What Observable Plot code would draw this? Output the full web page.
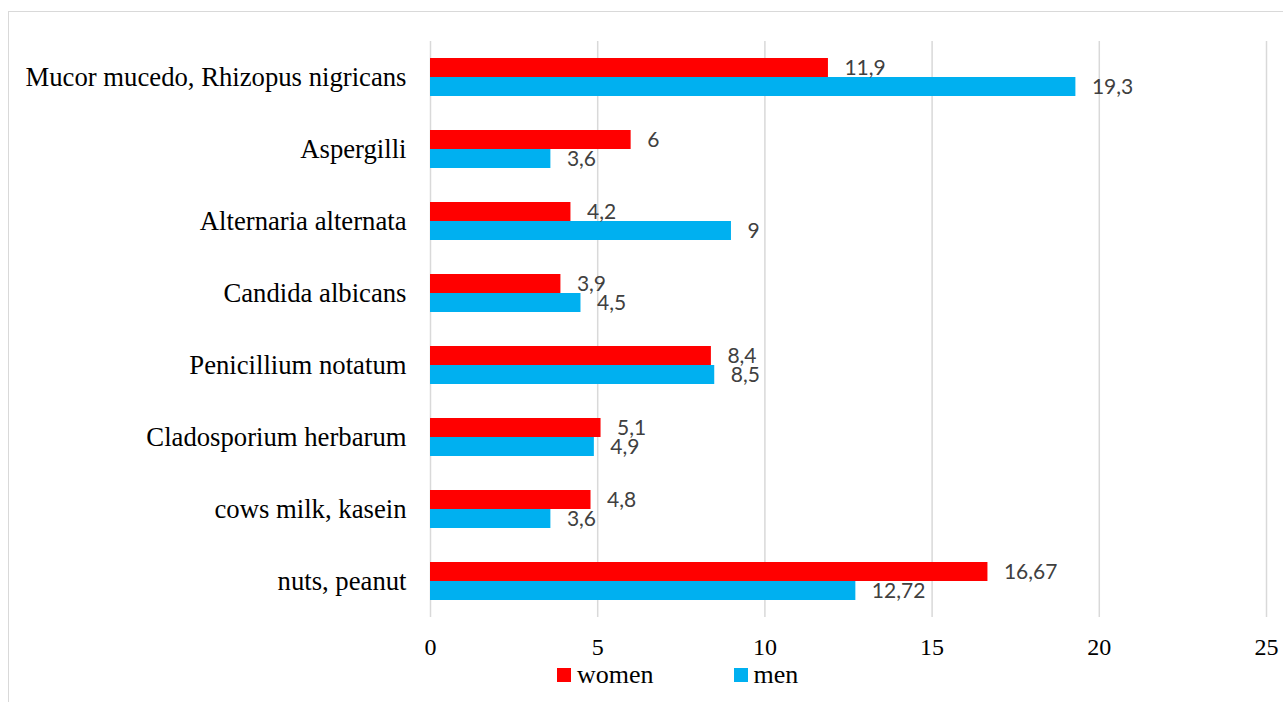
<!DOCTYPE html>
<html>
<head>
<meta charset="utf-8">
<script src="https://cdn.jsdelivr.net/npm/d3@7"></script>
<script src="https://cdn.jsdelivr.net/npm/@observablehq/plot@0.6"></script>
<style>
  html, body { margin: 0; padding: 0; background: #fff; }
  #wrap { position: relative; width: 1283px; height: 702px; overflow: hidden; }
  #frame {
    position: absolute; left: 8px; top: 11px; width: 1300px; height: 720px;
    border-top: 1.5px solid #d9d9d9; border-left: 1.5px solid #d9d9d9;
  }
  #chart { position: absolute; left: 0; top: 0; }
  #legend {
    position: absolute; left: 557px; top: 660px; height: 30px;
    display: flex; align-items: center;
    font-family: "Liberation Serif", "Times New Roman", serif; font-size: 26px; color: #000;
  }
  #legend .item { display: flex; align-items: center; margin-right: 80px; }
  #legend .sw { width: 14px; height: 14px; margin-right: 6px; }
</style>
</head>
<body>
<div id="wrap">
  <div id="frame"></div>
  <div id="chart"></div>
  <div id="legend"></div>
</div>
<script>
// Allergen groups, top to bottom
const categories = [
  "Mucor mucedo, Rhizopus nigricans",
  "Aspergilli",
  "Alternaria alternata",
  "Candida albicans",
  "Penicillium notatum",
  "Cladosporium herbarum",
  "cows milk, kasein",
  "nuts, peanut"
];
const series = ["women", "men"];
const colors = ["#FF0000", "#00B0F0"];
const women = [11.9, 6, 4.2, 3.9, 8.4, 5.1, 4.8, 16.67];
const men = [19.3, 3.6, 9, 4.5, 8.5, 4.9, 3.6, 12.72];
const xTicks = [0, 5, 10, 15, 20, 25];

const rowsWomen = categories.map((c, i) => ({category: c, sex: "women", value: women[i]}));
const rowsMen = categories.map((c, i) => ({category: c, sex: "men", value: men[i]}));
const fmt = v => String(v).replace(".", ",");

const labelFont = {fontFamily: "Lato, 'Open Sans', sans-serif", fontSize: 21, fill: "#404040"};

const plot = Plot.plot({
  width: 1283,
  height: 660,
  marginLeft: 430,
  marginRight: 17,
  marginTop: 41,
  marginBottom: 43,
  style: {fontFamily: "'Liberation Serif', 'Times New Roman', serif", background: "transparent", overflow: "visible"},
  x: {domain: [0, 25]},
  y: {domain: categories, padding: 0},
  color: {domain: series, range: colors},
  marks: [
    Plot.gridX(xTicks, {stroke: "#d9d9d9", strokeOpacity: 1, strokeWidth: 1.5}),
    Plot.barX(rowsWomen, {x: "value", y: "category", fill: "sex", insetTop: 17, insetBottom: 36}),
    Plot.barX(rowsMen, {x: "value", y: "category", fill: "sex", insetTop: 36, insetBottom: 17}),
    Plot.text(rowsWomen, {x: "value", y: "category", text: d => fmt(d.value), textAnchor: "start", dx: 16, dy: -9, ...labelFont}),
    Plot.text(rowsMen, {x: "value", y: "category", text: d => fmt(d.value), textAnchor: "start", dx: 16, dy: 10, ...labelFont}),
    Plot.axisX({ticks: xTicks, tickSize: 0, tickPadding: 20, fontSize: 24, fill: "#000", label: null, tickFormat: d => String(d)}),
    Plot.axisY({tickSize: 0, tickPadding: 24, fontSize: 26.7, fill: "#000", label: null})
  ]
});
document.getElementById("chart").appendChild(plot);

// Legend built from the same series and colour lists
const legend = document.getElementById("legend");
series.forEach((s, i) => {
  const item = document.createElement("div");
  item.className = "item";
  const sw = document.createElement("span");
  sw.className = "sw";
  sw.style.background = colors[i];
  const label = document.createElement("span");
  label.textContent = s;
  item.appendChild(sw);
  item.appendChild(label);
  legend.appendChild(item);
});
</script>
</body>
</html>
